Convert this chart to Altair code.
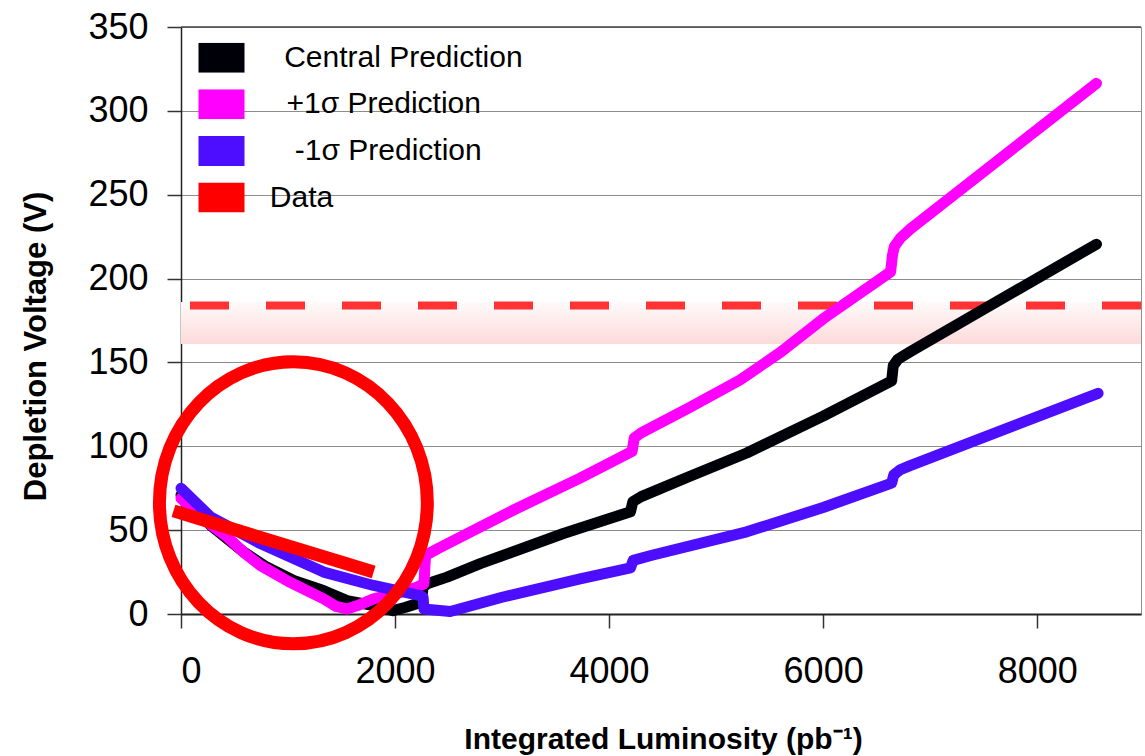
import altair as alt
import pandas as pd

# Predicted depletion voltage (V) versus integrated luminosity (pb^-1)
central_lumi = [0, 150, 275, 585, 800, 1052, 1330, 1551, 1800, 1980, 2100, 2245, 2262, 2300,
                2486, 2796, 3573, 4200, 4222, 4300, 4750, 5286, 6000, 6640, 6655, 6700, 6813, 8554]
central_volt = [71, 61, 53, 37, 28, 20, 14, 8, 5, 2, 4, 7, 16, 18,
                22, 30, 48, 61, 67, 70, 82, 96, 118, 139, 148, 152, 156.4, 220.5]

plus_lumi = [0, 200, 430, 600, 741, 1000, 1333, 1450, 1551, 1650, 1799, 2000, 2204, 2270, 2285,
             2400, 3107, 3729, 4215, 4235, 4300, 4750, 5223, 5600, 6000, 6630, 6648, 6665, 6720,
             6813, 8554]
plus_volt = [69, 57, 46, 36, 29, 19.5, 9, 4.5, 3, 5, 9, 12, 16, 18, 35,
             39, 62, 81, 97, 105, 108, 123, 139.5, 156, 176, 204, 214, 219, 224,
             229.5, 316.4]

minus_lumi = [0, 275, 741, 1333, 1799, 2235, 2262, 2270, 2516, 3000, 3729, 4200, 4225, 4400,
              5286, 6000, 6640, 6660, 6720, 6813, 8569]
minus_volt = [75, 58, 42, 25, 17, 11, 10, 3, 1.5, 10, 21, 27.5, 32, 35,
              49, 63.5, 78, 83, 86, 88.5, 131.6]

# Measured trend
data_lumi = [-70, 1800]
data_volt = [61.5, 25]

# Operating limit and its band
limit_volt = [184]
band_low = [161]
band_high = [186]

# Highlighted low-luminosity region
ring_lumi = [1050]
ring_volt = [66.3]

# Legend names; a zero-width space keeps the indenting spaces from being trimmed
ZW, NB, TH = "\u200b", "\u00a0", "\u2009"
series_names = [ZW + NB + TH + "Central Prediction", ZW + NB + NB + "+1σ Prediction",
                ZW + NB + NB + NB + "-1σ Prediction", "Data"]
series_colors = ["#000008", "#FF00FF", "#4D0DFF", "#FF0000"]

rows = []
for name, xs, ys in [(series_names[0], central_lumi, central_volt),
                     (series_names[1], plus_lumi, plus_volt),
                     (series_names[2], minus_lumi, minus_volt)]:
    for i, (x, y) in enumerate(zip(xs, ys)):
        rows.append({"series": name, "lumi": x, "volt": y, "idx": i})
curves = pd.DataFrame(rows)
data_df = pd.DataFrame({"series": series_names[3], "lumi": data_lumi, "volt": data_volt,
                        "idx": list(range(len(data_lumi)))})
band_df = pd.DataFrame({"lo": band_low, "hi": band_high})
limit_df = pd.DataFrame({"v": limit_volt})
ring_df = pd.DataFrame({"lumi": ring_lumi, "volt": ring_volt})

SANS = "Liberation Sans, Arial"

x_scale = alt.Scale(domain=[0, 8970], nice=False, zero=False)
y_scale = alt.Scale(domain=[0, 350], nice=False)
color_scale = alt.Scale(domain=series_names, range=series_colors)

x_axis = alt.Axis(values=[0, 2000, 4000, 6000, 8000], format="d",
                  title="Integrated Luminosity (pb⁻¹)",
                  grid=False, tickSize=14, tickWidth=1.5, tickColor="#333",
                  domainColor="#222", domainWidth=2, labelPadding=26,
                  titleFontSize=30, titleBaseline="alphabetic", titleY=134, titleX=482)
y_axis = alt.Axis(values=list(range(0, 351, 50)), format="d", title="Depletion Voltage (V)",
                  grid=True, gridColor="#8c8c8c", gridWidth=1,
                  tickSize=14, tickWidth=1.5, tickColor="#333",
                  domainColor="#222", domainWidth=1.5, labelPadding=19,
                  titleFontSize=31, titleBaseline="alphabetic", titleAlign="center",
                  titleAngle=270, titleX=-136, titleY=319)

legend = alt.Legend(title=None, orient="none", legendX=2.5, legendY=15.7,
                    symbolType="stroke", symbolSize=2116, symbolStrokeWidth=30,
                    symbolOffset=0, labelOffset=10.3, clipHeight=30,
                    labelFont=SANS, labelFontSize=30, labelColor="black", labelLimit=500,
                    rowPadding=16.6, padding=0)

band = alt.Chart(band_df).mark_rect(
    color=alt.Gradient(gradient="linear",
                       stops=[alt.GradientStop(color="#FFFAFA", offset=0),
                              alt.GradientStop(color="#FDDADA", offset=1)],
                       x1=0, x2=0, y1=0, y2=1)
).encode(y=alt.Y("hi:Q", scale=y_scale, axis=y_axis), y2="lo:Q")

limit = alt.Chart(limit_df).mark_rule(
    color="#FF3333", strokeWidth=8, strokeDash=[39, 37]
).encode(y=alt.Y("v:Q", scale=y_scale))

top_edge = alt.Chart(pd.DataFrame({"v": [350]})).mark_rule(
    color="#444", strokeWidth=1.5
).encode(y=alt.Y("v:Q", scale=y_scale))

lines = alt.Chart(curves).mark_line(strokeCap="round", strokeJoin="round").encode(
    x=alt.X("lumi:Q", scale=x_scale, axis=x_axis),
    y=alt.Y("volt:Q", scale=y_scale),
    color=alt.Color("series:N", scale=color_scale, legend=legend),
    order="idx:Q",
    strokeWidth=alt.value(11),
)

data_bar = alt.Chart(data_df).mark_line(strokeCap="butt").encode(
    x=alt.X("lumi:Q", scale=x_scale),
    y=alt.Y("volt:Q", scale=y_scale),
    color=alt.Color("series:N", scale=color_scale, legend=legend),
    order="idx:Q",
    strokeWidth=alt.value(13),
)

ring = alt.Chart(ring_df).mark_point(
    shape="M-0.95,0A0.95,1,0,1,1,0.95,0A0.95,1,0,1,1,-0.95,0Z",
    size=79524, filled=False, stroke="#FF0000", strokeWidth=13, opacity=1
).encode(x=alt.X("lumi:Q", scale=x_scale), y=alt.Y("volt:Q", scale=y_scale))

chart = alt.layer(band, limit, lines, data_bar, ring, top_edge).properties(
    width=960, height=587,
    autosize=alt.AutoSizeParams(type="none"),
    padding={"left": 181, "top": 27, "right": 4, "bottom": 142},
).configure_view(
    stroke="#909090", strokeWidth=1
).configure_axis(
    labelFont=SANS, labelFontSize=36, labelColor="black",
    titleFont=SANS, titleFontWeight="bold", titleColor="black",
)

chart.save("out.html", embed_options={"renderer": "svg", "actions": False})
